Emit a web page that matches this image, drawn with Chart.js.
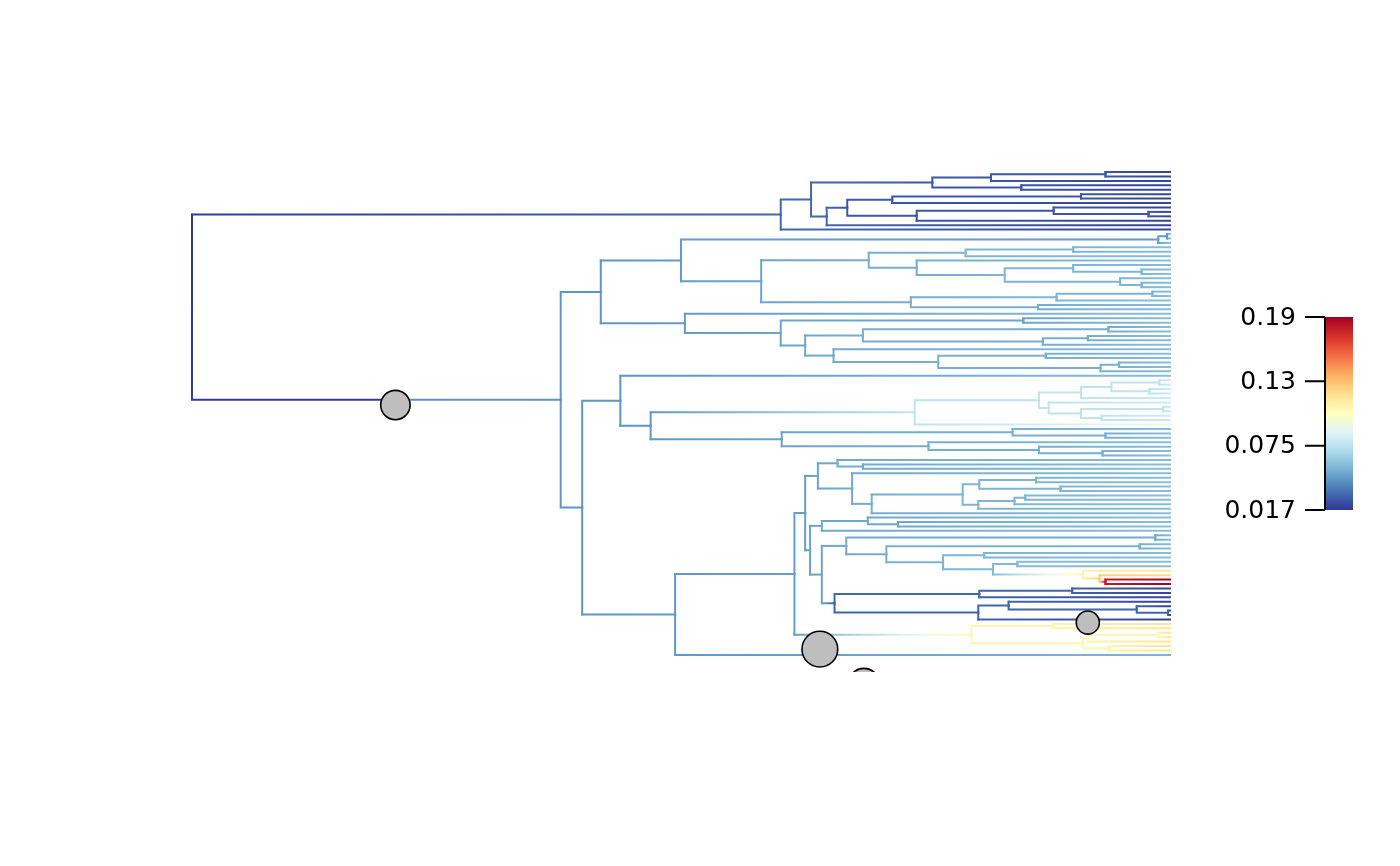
<!DOCTYPE html>
<html>
<head>
<meta charset="utf-8">
<script src="https://cdn.jsdelivr.net/npm/chart.js@4.4.1/dist/chart.umd.min.js"></script>
<style>
  html, body { margin: 0; padding: 0; background: #fff; }
</style>
</head>
<body>
<canvas id="rateTree" width="1400" height="866"></canvas>
<script>
// Clades written as "(a,b)T": node at time T (root = 0, tips = 100), "t" = tip.
// #r = rate at the node, ^r = rate at the start of the branch into the node,
// ~r = rate at the tips below the node.
const topClade = "(((((t,t)93.4,t)81.7,(t,t)84.8)75.7#0.026,((((t,t)90.9,t)71.6,((t,(t,t)97.8)88.1,t)74.1)67.0#0.026,t)64.9)63.3,t)60.2#0.031~0.021";
const blueUpper = "(((t,t)99.7,t)98.8,((((t,t)90.1,t)79.1#0.055,(t,((t,(t,t)97.1)90.1,(t,(t,t)97.1)94.9)83.1#0.055)74.1#0.052)69.2#0.052,(((t,t)98.2,t)88.4#0.055,(t,t)86.5)73.5#0.052)58.2#0.049)50.0#0.046";
const blueMiddle = "(t,((t,t)85.0,(((t,t)93.7,((t,t)91.6,t)87.0)68.6#0.052,(t,((t,t)87.3,((t,t)94.8,t)92.9)76.3#0.053)65.6#0.051)62.7#0.05)60.2#0.049)50.4#0.046";
const cyanClade = "(((((t,t)98.9,(t,t)97.9)94.0,t)90.9,(t,((t,t)99.3,(t,t)93.0)90.9)87.6)86.6,t#0.09)73.9#0.076~0.08";
const blueLower = "((t,(t,t)93.4)83.9#0.053,(t,(t,(t,t)93.1)86.6)75.3#0.052)60.3#0.049";
const blueDeep = "((t,(t,t)68.6)66.0#0.051,(t,((((t,t)86.3,(t,t)88.8)80.5,(((t,t)85.2,t)84.1,t)80.4)78.8#0.055,t)69.5#0.052)67.5#0.051)64.0#0.049";
const blueSmall = "((t,(t,t)72.2)69.1,t)64.4#0.05";
const hotClade = "((t,t)98.5,((t,t)96.9,((t,t)81.0,((t,t)84.4,(t,(t,(t,t)93.4#0.18~0.19)92.8#0.125~0.12)91.1#0.11~0.116)81.9#0.057)76.8#0.055)71.0#0.053)66.9#0.051";
const darkClade = "(((t,t)90.0,t)80.5,((t,(t,(t,t)99.8)96.6)83.5,t)80.4)65.7#0.03~0.021";
const yellowClade = "((t,t)88.0,(((t,t)98.8,t)91.6,(t,t)93.8)91.1)79.7#0.108~0.117";

const lowerClade = `(((${blueDeep},(${blueSmall},(${hotClade},${darkClade})64.4#0.049)63.2#0.048)62.7#0.047,${yellowClade})61.6#0.047,t#0.055)49.4#0.045`;
const treeString = `(${topClade},(((${blueUpper},${blueMiddle})41.8#0.044,((t,(${cyanClade},${blueLower})46.9#0.045)43.8#0.044,${lowerClade})39.9#0.044)37.7^0.043#0.044~0.058)20.8)0#0.018`;
const tipTime = 100;

// rate shifts: time, vertical position (tip units), marginal probability
const shiftTimes = [20.8, 64.2, 91.6, 68.7];
const shiftY = [52.6, 107.7, 101.7, 115.6];
const shiftProb = [0.42, 0.51, 0.33, 0.45];

// colour legend
const legendValues = [0.017, 0.075, 0.13, 0.19];
const legendLabels = ["0.017", "0.075", "0.13", "0.19"];
const palette = ["#313695", "#4575b4", "#74add1", "#abd9e9", "#e0f3f8", "#ffffbf",
                 "#fee090", "#fdae61", "#f46d43", "#d73027", "#a50026"];

function parseTree(str) {
  let pos = 0;
  function num() {
    const m = /^\d*\.?\d+/.exec(str.slice(pos));
    pos += m[0].length;
    return parseFloat(m[0]);
  }
  function node() {
    const n = { children: [] };
    if (str[pos] === "(") {
      pos++;
      n.children.push(node());
      while (str[pos] === ",") { pos++; n.children.push(node()); }
      pos++;
      n.time = num();
    } else {
      pos++;
      n.time = tipTime;
    }
    while (pos < str.length && "#^~".includes(str[pos])) {
      const c = str[pos++];
      const v = num();
      if (c === "#") n.rate = v;
      else if (c === "^") n.startRate = v;
      else n.tipRate = v;
    }
    return n;
  }
  return node();
}

const root = parseTree(treeString);
let tipCount = 0;
function layout(n, parentRate, tipRate) {
  const tr = n.tipRate ?? tipRate;
  if (!n.children.length) {
    n.y = tipCount++;
    n.rate = n.rate ?? tr ?? parentRate;
    return;
  }
  n.rate = n.rate ?? parentRate;
  n.children.forEach(c => layout(c, n.rate, tr));
  n.y = (n.children[0].y + n.children[n.children.length - 1].y) / 2;
}
layout(root, root.rate, undefined);

const branchPoints = [];
const segInfo = [];
function collect(n) {
  n.children.forEach(c => {
    const i = branchPoints.length;
    branchPoints.push({ x: n.time, y: n.y }, { x: n.time, y: c.y }, { x: c.time, y: c.y }, { x: c.time, y: null });
    segInfo[i] = { from: n.rate, to: n.rate };
    segInfo[i + 1] = { from: c.startRate ?? n.rate, to: c.rate };
    collect(c);
  });
}
collect(root);

function hexRgb(h) {
  return [1, 3, 5].map(k => parseInt(h.slice(k, k + 2), 16));
}
const paletteRgb = palette.map(hexRgb);
function ratePos(r) {
  const v = legendValues;
  if (r <= v[0]) return 0;
  for (let i = 1; i < v.length; i++) {
    if (r <= v[i]) return (i - 1 + (r - v[i - 1]) / (v[i] - v[i - 1])) / (v.length - 1);
  }
  return 1;
}
function rateColor(r) {
  const p = ratePos(r) * (paletteRgb.length - 1);
  const i = Math.min(Math.floor(p), paletteRgb.length - 2);
  const f = p - i;
  const a = paletteRgb[i], b = paletteRgb[i + 1];
  const c = a.map((x, k) => Math.round(x + (b[k] - x) * f));
  return `rgb(${c[0]},${c[1]},${c[2]})`;
}

const colorBar = {
  id: "colorBar",
  afterDraw(chart) {
    const c = chart.ctx;
    const x0 = 1325, x1 = 1353, top = 317, bottom = 510;
    const g = c.createLinearGradient(0, bottom, 0, top);
    palette.forEach((col, i) => g.addColorStop(i / (palette.length - 1), col));
    c.save();
    c.fillStyle = g;
    c.fillRect(x0, top, x1 - x0, bottom - top);
    c.strokeStyle = "#000";
    c.lineWidth = 2;
    c.beginPath();
    c.moveTo(x0, top);
    c.lineTo(x0, bottom);
    const step = (bottom - top) / (legendLabels.length - 1);
    legendLabels.forEach((lab, i) => {
      const y = bottom - i * step;
      c.moveTo(1305, y);
      c.lineTo(x0, y);
    });
    c.stroke();
    c.font = '25px "DejaVu Sans"';
    c.fillStyle = "#000";
    c.textAlign = "right";
    c.textBaseline = "middle";
    legendLabels.forEach((lab, i) => c.fillText(lab, 1296, bottom - i * step + 1));
    c.restore();
  }
};

new Chart(document.getElementById("rateTree"), {
  type: "scatter",
  data: {
    datasets: [
      {
        label: "shifts",
        data: shiftTimes.map((t, i) => ({ x: t, y: shiftY[i] })),
        pointRadius: ctx => 35 * shiftProb[ctx.dataIndex],
        pointBackgroundColor: "#bebebe",
        pointBorderColor: "#000",
        pointBorderWidth: 1.6,
        clip: 0,
        order: 0
      },
      {
        label: "branches",
        data: branchPoints,
        showLine: true,
        spanGaps: false,
        pointRadius: 0,
        borderWidth: 2,
        borderColor: "#5b8fc5",
        borderCapStyle: "square",
        clip: 0,
        order: 1,
        segment: {
          borderColor(ctx) {
            const s = segInfo[ctx.p0DataIndex];
            if (!s) return undefined;
            if (s.from === s.to || Math.abs(ctx.p1.x - ctx.p0.x) < 0.5) return rateColor(s.to);
            // follow the colour ramp along the branch, not a straight RGB blend
            const g = ctx.chart.ctx.createLinearGradient(ctx.p0.x, 0, ctx.p1.x, 0);
            const steps = 8;
            for (let k = 0; k <= steps; k++) {
              g.addColorStop(k / steps, rateColor(s.from + (s.to - s.from) * k / steps));
            }
            return g;
          }
        }
      }
    ]
  },
  options: {
    responsive: false,
    devicePixelRatio: 1,
    animation: false,
    events: [],
    layout: { autoPadding: false, padding: { left: 0, right: 0, top: 0, bottom: 194 } },
    scales: {
      x: { type: "linear", min: -19.63, max: 123.52, display: false },
      y: { type: "linear", min: -38.83, max: 112.86, reverse: true, display: false }
    },
    plugins: { legend: { display: false }, tooltip: { enabled: false } }
  },
  plugins: [colorBar]
});
</script>
</body>
</html>
